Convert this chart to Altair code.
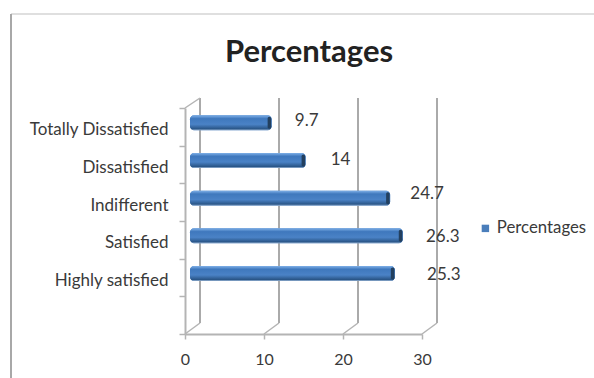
import altair as alt
import pandas as pd

# Survey responses
categories = ["Totally Dissatisfied", "Dissatisfied", "Indifferent", "Satisfied", "Highly satisfied"]
percentages = [9.7, 14, 24.7, 26.3, 25.3]
axis_ticks = [0, 10, 20, 30]
series_name = "Percentages"
chart_title = "Percentages"

# (dx, dy) of each value label, in category order
label_nudges = [(45, -6), (45, -5), (47, -8), (50, -3), (59, -3)]

FONT = "Lato"
TEXT = "#3a3a3a"
DEPTH_X = 15
DEPTH_Y = 11
PLOT_W = 237
PLOT_H = 226
GREY = "#b4b4b4"
WALL = "#8e8e8e"

bars = pd.DataFrame({"category": categories, "value": percentages, "start": 0, "series": series_name})
grid = pd.DataFrame({"tick": axis_ticks})

x_scale = alt.Scale(domain=[0, 30], nice=False, zero=False)
y_scale = alt.Scale(domain=categories + [" "], paddingInner=0, paddingOuter=0)

x_axis = alt.Axis(values=axis_ticks, grid=False, labelFontSize=16, labelColor=TEXT, labelFont=FONT,
                  labelPadding=12, labelFlush=False, tickSize=5, tickColor=GREY, domainColor=GREY,
                  domainWidth=2, tickWidth=1.5, title=None)
y_axis = alt.Axis(labelFontSize=17, labelColor=TEXT, labelFont=FONT, labelPadding=11, labelOffset=3,
                  tickBand="extent", tickSize=6, tickColor=GREY, domainColor=GREY,
                  domainWidth=2, tickWidth=1.5, grid=False, labelLimit=200, title=None)

x_start = alt.X("start:Q", scale=x_scale, axis=x_axis)
x_tick = alt.X("tick:Q", scale=x_scale, axis=x_axis)
x_value = alt.X("value:Q", scale=x_scale, axis=x_axis)
y_cat = alt.Y("category:N", scale=y_scale, sort=None, axis=y_axis)

# Bar body, which also carries the legend
body = alt.Chart(bars).mark_bar(cornerRadius=4, size=15, xOffset=5, x2Offset=10, yOffset=-4).encode(
    x=x_start,
    x2="value:Q",
    y=y_cat,
    color=alt.Color("series:N", scale=alt.Scale(range=["#4a7ebb"]), title=None,
                    legend=alt.Legend(orient="none", legendX=292, legendY=112, symbolType="square",
                                      symbolSize=55, labelFontSize=16.8, labelFont=FONT,
                                      labelColor=TEXT, symbolStrokeWidth=0, labelOffset=3)),
)

# Cylinder shading over the bar body
shade = alt.Chart(bars).mark_bar(
    cornerRadius=4, size=15, xOffset=5, x2Offset=10, yOffset=-4,
    color=alt.Gradient(gradient="linear", x1=0, x2=0, y1=0, y2=1, stops=[
        alt.GradientStop(color="#7fb0e8", offset=0),
        alt.GradientStop(color="#3f78bd", offset=0.22),
        alt.GradientStop(color="#4a82c6", offset=0.6),
        alt.GradientStop(color="#2a5688", offset=0.9),
        alt.GradientStop(color="#9db8d8", offset=1),
    ]),
).encode(x=x_start, x2="value:Q", y=y_cat)

# Dark end cap of each bar
cap = alt.Chart(bars).mark_bar(
    cornerRadius=2, size=12, xOffset=6, x2Offset=9.5, yOffset=-4, color="#23405f",
).encode(x=x_value, x2="value:Q", y=y_cat)

# Receding back-wall lines and the floor stubs that join them to the axis
wall_lines = alt.Chart(grid).mark_rule(color=WALL, strokeWidth=1.5, xOffset=DEPTH_X, x2Offset=DEPTH_X).encode(
    x=x_tick, x2="tick:Q", y=alt.value(-DEPTH_Y + 1), y2=alt.value(PLOT_H - DEPTH_Y),
)
floor_stubs = alt.Chart(grid).mark_rule(color=GREY, strokeWidth=1.5, x2Offset=DEPTH_X).encode(
    x=x_tick, x2="tick:Q", y=alt.value(PLOT_H), y2=alt.value(PLOT_H - DEPTH_Y),
)
corner_stub = alt.Chart(grid[grid.tick == 0]).mark_rule(color=GREY, strokeWidth=1.5, x2Offset=DEPTH_X).encode(
    x=x_tick, x2="tick:Q", y=alt.value(0), y2=alt.value(-DEPTH_Y + 1),
)

# Value labels sit at a hand-placed distance from each bar
labels = []
for i, (dx, dy) in enumerate(label_nudges):
    labels.append(
        alt.Chart(bars.iloc[[i]]).mark_text(
            dx=dx, dy=dy, fontSize=17, font=FONT, color=TEXT, align="center", baseline="middle",
        ).encode(x=x_value, y=y_cat, text=alt.Text("value:Q"))
    )

# Outer frame, top and left edges only
frame_top = alt.Chart(grid.head(1)).mark_rule(color="#d4d4d4", strokeWidth=1.5).encode(
    x=alt.value(-174), x2=alt.value(410), y=alt.value(-94),
)
frame_left = alt.Chart(grid.head(1)).mark_rule(color="#a8a8a8", strokeWidth=2).encode(
    x=alt.value(-174), y=alt.value(-94), y2=alt.value(270),
)

# Chart heading
heading = alt.Chart(pd.DataFrame({"title": [chart_title]})).mark_text(
    font=FONT, fontSize=31, fontWeight="bold", color="#222222", align="center", baseline="middle",
).encode(x=alt.value(124), y=alt.value(-55), text="title:N")

chart = alt.layer(
    frame_top, frame_left, heading, wall_lines, floor_stubs, corner_stub, body, shade, cap, *labels,
).properties(
    width=PLOT_W,
    height=PLOT_H,
    padding={"left": 185, "top": 108, "right": 172, "bottom": 44},
    autosize=alt.AutoSizeParams(type="none"),
    background="white",
).configure_view(stroke=None)

chart.save("out.html", embed_options={"renderer": "svg", "actions": False})
